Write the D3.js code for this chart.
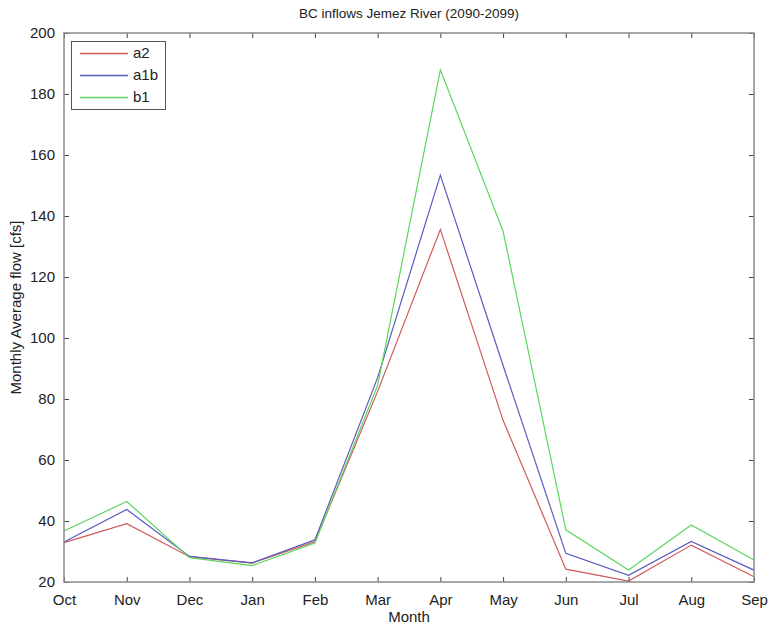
<!DOCTYPE html>
<html>
<head>
<meta charset="utf-8">
<script src="https://cdn.jsdelivr.net/npm/d3@7"></script>
<style>
  body { margin: 0; background: #fff; }
  text { font-family: "Liberation Sans", Arial, sans-serif; fill: #222; }
</style>
</head>
<body>
<svg id="chart" width="771" height="628"></svg>
<script>
var months = ['Oct', 'Nov', 'Dec', 'Jan', 'Feb', 'Mar', 'Apr', 'May', 'Jun', 'Jul', 'Aug', 'Sep'];
var a2 = [32.9, 39.1, 28.3, 26.2, 33.2, 82.5, 135.6, 73, 24.2, 20.3, 32.1, 21.7];
var a1b = [33.1, 43.8, 28.4, 26.3, 33.8, 87, 153.4, 91, 29.4, 22.2, 33.3, 23.9];
var b1 = [36.7, 46.4, 28.0, 25.4, 32.8, 84.5, 187.9, 135.0, 37.1, 23.9, 38.7, 27.2];
var seriesNames = ['a2', 'a1b', 'b1'];
var seriesColors = ['#d05a5a', '#5a5ac0', '#5cd65c'];
var yTicks = [20, 40, 60, 80, 100, 120, 140, 160, 180, 200];

var series = [a2, a1b, b1].map((v, i) => ({ name: seriesNames[i], values: v, color: seriesColors[i] }));

var margin = { top: 33, right: 17, bottom: 46, left: 64 };
var width = 771 - margin.left - margin.right;
var height = 628 - margin.top - margin.bottom;

var svg = d3.select('#chart')
  .append('g')
  .attr('transform', 'translate(' + margin.left + ',' + margin.top + ')');

var x = d3.scalePoint().domain(months).range([0, width]);
var y = d3.scaleLinear().domain([20, 200]).range([height, 0]);

var axisColor = '#8a8a8a';

// lines
var lineGen = d3.line()
  .x((d, i) => x(months[i]))
  .y(d => y(d));

svg.selectAll('.series')
  .data(series)
  .enter()
  .append('path')
  .attr('class', 'series')
  .attr('fill', 'none')
  .attr('stroke', d => d.color)
  .attr('stroke-width', 1.2)
  .attr('d', d => lineGen(d.values));

// axes (ticks pointing inward, matlab box)
function styleAxis(g) {
  g.select('.domain').remove();
  g.selectAll('.tick line').attr('stroke', '#444').attr('stroke-width', 1);
}

var xAxis = svg.append('g')
  .attr('transform', 'translate(0,' + height + ')')
  .call(d3.axisBottom(x).tickSizeInner(-5).tickSizeOuter(0).tickPadding(12));
styleAxis(xAxis);
xAxis.selectAll('text').style('font-size', '15px').attr('fill', '#222');

var xTop = svg.append('g')
  .call(d3.axisTop(x).tickSizeInner(-5).tickSizeOuter(0).tickFormat(''));
styleAxis(xTop);

var yAxis = svg.append('g')
  .call(d3.axisLeft(y).tickValues(yTicks).tickSizeInner(-5).tickSizeOuter(0).tickPadding(9));
styleAxis(yAxis);
yAxis.selectAll('text').style('font-size', '15px').attr('fill', '#222');

var yRight = svg.append('g')
  .attr('transform', 'translate(' + width + ',0)')
  .call(d3.axisRight(y).tickValues(yTicks).tickSizeInner(-5).tickSizeOuter(0).tickFormat(''));
styleAxis(yRight);

// box
svg.append('rect')
  .attr('x', 0)
  .attr('y', 0)
  .attr('width', width)
  .attr('height', height)
  .attr('fill', 'none')
  .attr('stroke', axisColor)
  .attr('stroke-width', 1.5);

// title and labels
svg.append('text')
  .attr('x', width / 2)
  .attr('y', -15)
  .attr('text-anchor', 'middle')
  .style('font-size', '13.5px')
  .text('BC inflows Jemez River (2090-2099)');

svg.append('text')
  .attr('x', width / 2)
  .attr('y', height + 40)
  .attr('text-anchor', 'middle')
  .style('font-size', '15px')
  .text('Month');

svg.append('text')
  .attr('transform', 'rotate(-90)')
  .attr('x', -height / 2)
  .attr('y', -43)
  .attr('text-anchor', 'middle')
  .style('font-size', '15px')
  .text('Monthly Average flow [cfs]');

// legend
var legend = svg.append('g').attr('transform', 'translate(7,8)');
legend.append('rect')
  .attr('x', 0.5)
  .attr('y', 0.5)
  .attr('width', 94)
  .attr('height', 68)
  .attr('fill', '#fff')
  .attr('stroke', '#555')
  .attr('stroke-width', 1);

var rows = legend.selectAll('.row')
  .data(series)
  .enter()
  .append('g')
  .attr('class', 'row')
  .attr('transform', (d, i) => 'translate(0,' + (12 + i * 22) + ')');

rows.append('line')
  .attr('x1', 9)
  .attr('x2', 57)
  .attr('y1', 0.5)
  .attr('y2', 0.5)
  .attr('stroke', d => d.color)
  .attr('stroke-width', 1.5);

rows.append('text')
  .attr('x', 62)
  .attr('dy', '0.35em')
  .style('font-size', '15px')
  .text(d => d.name);
</script>
</body>
</html>
